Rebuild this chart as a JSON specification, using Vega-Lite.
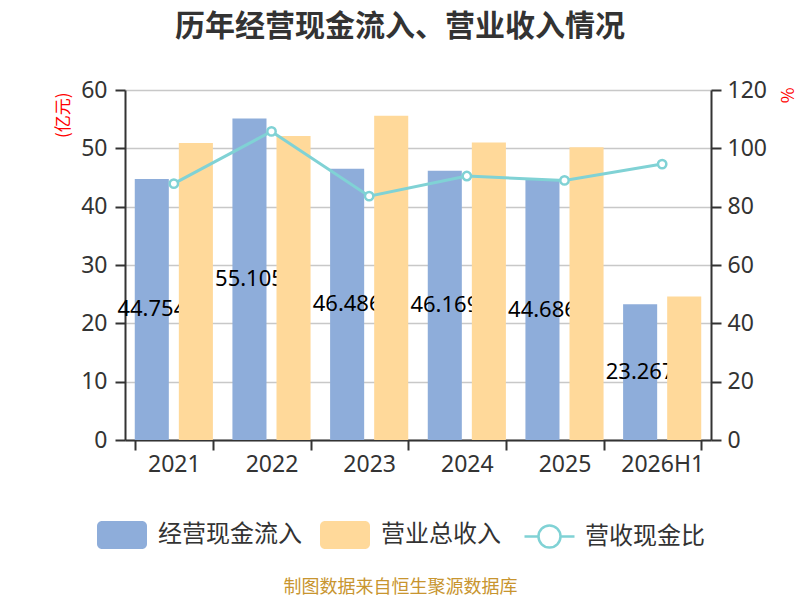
{
  "$schema": "https://vega.github.io/schema/vega-lite/v6.json",
  "autosize": {"type": "none"},
  "width": 586,
  "height": 350,
  "padding": {"left": 125, "top": 90, "right": 89, "bottom": 160},
  "background": "white",
  "title": {
    "text": "历年经营现金流入、营业收入情况",
    "font": "Noto Sans CJK SC",
    "fontSize": 30,
    "fontWeight": "bold",
    "color": "#333333",
    "anchor": "middle",
    "frame": "group",
    "dx": -18,
    "offset": 37
  },
  "datasets": {
    "bars": [
      {"year": "2021", "series": "经营现金流入", "value": 44.754},
      {"year": "2022", "series": "经营现金流入", "value": 55.105},
      {"year": "2023", "series": "经营现金流入", "value": 46.486},
      {"year": "2024", "series": "经营现金流入", "value": 46.169},
      {"year": "2025", "series": "经营现金流入", "value": 44.686},
      {"year": "2026H1", "series": "经营现金流入", "value": 23.267},
      {"year": "2021", "series": "营业总收入", "value": 50.9},
      {"year": "2022", "series": "营业总收入", "value": 52.1},
      {"year": "2023", "series": "营业总收入", "value": 55.6},
      {"year": "2024", "series": "营业总收入", "value": 51.0},
      {"year": "2025", "series": "营业总收入", "value": 50.2},
      {"year": "2026H1", "series": "营业总收入", "value": 24.6}
    ],
    "ratio": [
      {"year": "2021", "ratio": 87.9},
      {"year": "2022", "ratio": 105.8},
      {"year": "2023", "ratio": 83.6},
      {"year": "2024", "ratio": 90.5},
      {"year": "2025", "ratio": 89.0},
      {"year": "2026H1", "ratio": 94.6}
    ]
  },
  "layer": [
    {
      "data": {"name": "bars"},
      "encoding": {
        "x": {
          "field": "year",
          "type": "nominal",
          "sort": null,
          "scale": {"paddingInner": 0.2, "paddingOuter": 0.1},
          "axis": {
            "title": "制图数据来自恒生聚源数据库",
            "titleFont": "Noto Sans CJK SC",
            "titleFontSize": 18,
            "titleFontWeight": "normal",
            "titleColor": "#c8952f",
            "titleX": 275,
            "titleY": 147,
            "titleAlign": "center",
            "titleBaseline": "middle",
            "labelAngle": 0,
            "labelFont": "Noto Sans",
            "labelFontSize": 23,
            "labelColor": "#333333",
            "labelPadding": 3,
            "tickBand": "extent",
            "tickSize": 10,
            "tickWidth": 2,
            "tickColor": "#333333",
            "domainColor": "#333333",
            "domainWidth": 2
          }
        },
        "xOffset": {
          "field": "series",
          "type": "nominal",
          "scale": {"domain": ["经营现金流入", "营业总收入"], "paddingInner": 0.227, "paddingOuter": 0}
        },
        "y": {
          "field": "value",
          "type": "quantitative",
          "scale": {"domain": [0, 60], "nice": false},
          "axis": {
            "values": [0, 10, 20, 30, 40, 50, 60],
            "title": "(亿元)",
            "titleFont": "Noto Sans CJK SC",
            "titleFontSize": 17,
            "titleFontWeight": "normal",
            "titleColor": "#ff0000",
            "titleAngle": -90,
            "titleAlign": "right",
            "titleBaseline": "middle",
            "titleX": -62,
            "titleY": 2,
            "labelFont": "Noto Sans",
            "labelFontSize": 23,
            "labelColor": "#333333",
            "labelPadding": 8,
            "tickSize": 10,
            "tickWidth": 2,
            "tickColor": "#333333",
            "domainColor": "#333333",
            "domainWidth": 2,
            "grid": true,
            "gridColor": "#c8c8c8",
            "gridWidth": 1.5
          }
        },
        "color": {
          "field": "series",
          "type": "nominal",
          "scale": {
            "domain": ["经营现金流入", "营业总收入"],
            "range": ["#8eadda", "#ffd99a"]
          },
          "legend": {
            "orient": "none",
            "legendX": -28,
            "legendY": 420,
            "direction": "horizontal",
            "title": null,
            "symbolType": "M-0.8,-0.56L0.8,-0.56A0.2,0.2,0,0,1,1,-0.36L1,0.36A0.2,0.2,0,0,1,0.8,0.56L-0.8,0.56A0.2,0.2,0,0,1,-1,0.36L-1,-0.36A0.2,0.2,0,0,1,-0.8,-0.56Z",
            "symbolSize": 2500,
            "symbolStrokeWidth": 0,
            "symbolOpacity": 1,
            "labelFont": "Noto Sans CJK SC",
            "labelFontSize": 24,
            "labelColor": "#333333",
            "labelOffset": 11,
            "labelLimit": 300,
            "columnPadding": 18
          }
        }
      },
      "layer": [
        {
          "transform": [{"filter": "datum.series === '经营现金流入'"}],
          "mark": {"type": "bar"}
        },
        {
          "transform": [{"filter": "datum.series === '经营现金流入'"}],
          "mark": {"type": "text", "font": "Noto Sans", "fontSize": 22, "color": "#000000", "baseline": "middle", "align": "center"},
          "encoding": {
            "color": {"value": "#000000"},
            "y": {"field": "value", "type": "quantitative", "stack": "zero", "bandPosition": 0.5},
            "text": {"field": "value", "type": "quantitative", "format": ".3f"}
          }
        },
        {
          "transform": [{"filter": "datum.series === '营业总收入'"}],
          "mark": {"type": "bar"}
        }
      ]
    },
    {
      "data": {"name": "ratio"},
      "mark": {
        "type": "line",
        "strokeWidth": 3,
        "point": {"filled": false, "fill": "#ffffff", "size": 70, "strokeWidth": 2.5}
      },
      "encoding": {
        "x": {"field": "year", "type": "nominal", "sort": null},
        "y": {
          "field": "ratio",
          "type": "quantitative",
          "scale": {"domain": [0, 120], "nice": false},
          "axis": {
            "orient": "right",
            "values": [0, 20, 40, 60, 80, 100, 120],
            "title": "%",
            "titleFont": "Noto Sans CJK SC",
            "titleFontSize": 17,
            "titleFontWeight": "normal",
            "titleColor": "#ff0000",
            "titleAngle": 90,
            "titleAlign": "left",
            "titleBaseline": "middle",
            "titleX": 74,
            "titleY": -3,
            "labelFont": "Noto Sans",
            "labelFontSize": 23,
            "labelColor": "#333333",
            "labelPadding": 6,
            "tickSize": 10,
            "tickWidth": 2,
            "tickColor": "#333333",
            "domainColor": "#333333",
            "domainWidth": 2,
            "grid": false
          }
        },
        "stroke": {
          "datum": "营收现金比",
          "type": "nominal",
          "scale": {"domain": ["营收现金比"], "range": ["#80d2d5"]},
          "legend": {
            "orient": "none",
            "legendX": 398,
            "legendY": 420,
            "direction": "horizontal",
            "title": null,
            "symbolType": "M-1,0L-0.44,0M0.44,0L1,0M0.44,0A0.44,0.44,0,1,1,-0.44,0A0.44,0.44,0,1,1,0.44,0Z",
            "symbolSize": 2500,
            "symbolStrokeWidth": 2.5,
            "symbolFillColor": "#ffffff",
            "symbolOpacity": 1,
            "labelFont": "Noto Sans CJK SC",
            "labelFontSize": 24,
            "labelColor": "#333333",
            "labelOffset": 9,
            "labelLimit": 300
          }
        }
      }
    }
  ],
  "resolve": {"scale": {"y": "independent"}},
  "config": {
    "view": {"stroke": null}
  }
}
